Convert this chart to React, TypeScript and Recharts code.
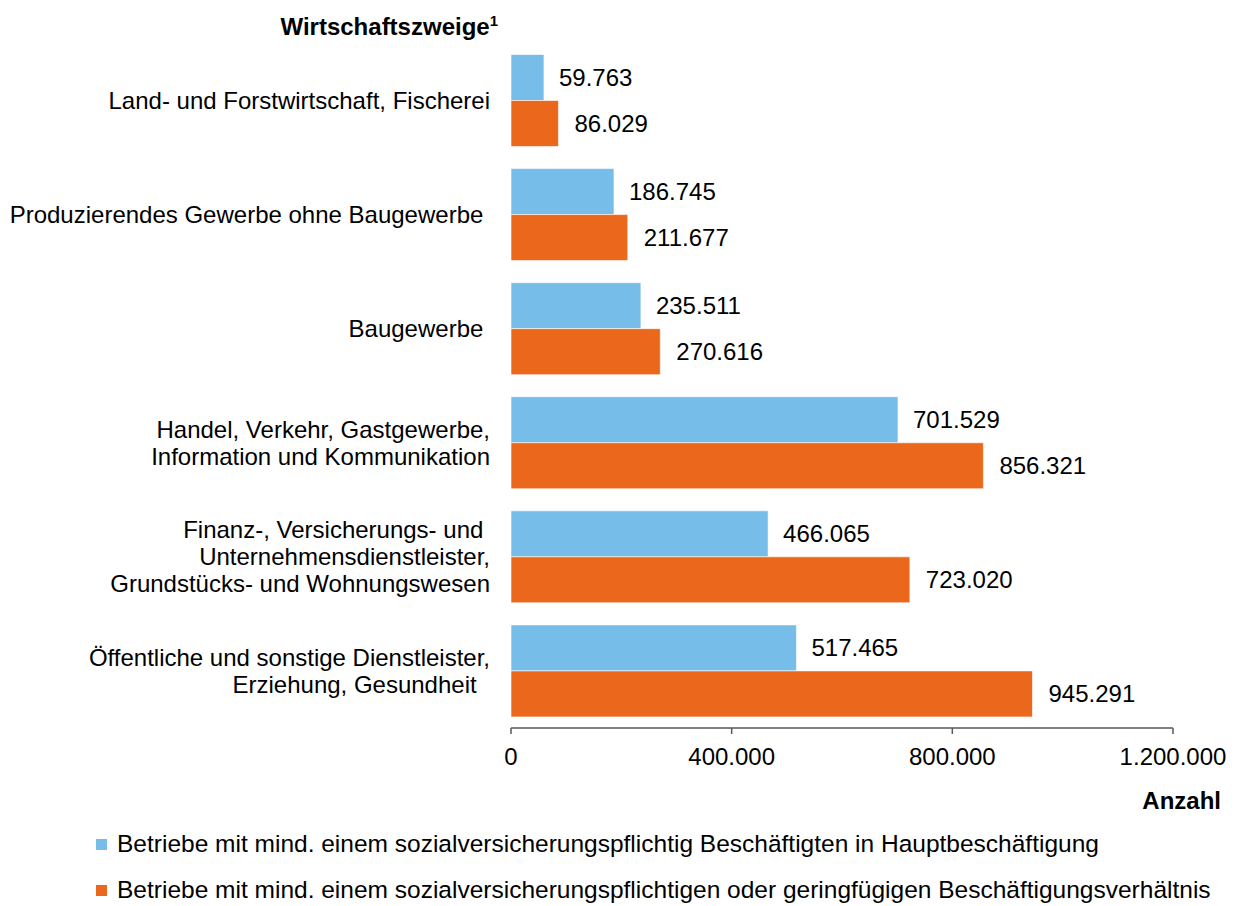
import { Bar, BarChart, LabelList, Legend, XAxis, YAxis } from 'recharts'

const categories = [
  'Land- und Forstwirtschaft, Fischerei',
  'Produzierendes Gewerbe ohne Baugewerbe\u00A0',
  'Baugewerbe\u00A0',
  'Handel, Verkehr, Gastgewerbe,\nInformation und Kommunikation',
  'Finanz-, Versicherungs- und\u00A0\nUnternehmensdienstleister,\nGrundstücks- und Wohnungswesen',
  'Öffentliche und sonstige Dienstleister,\nErziehung, Gesundheit\u00A0\u00A0',
]
const hauptbeschaeftigung = [59763, 186745, 235511, 701529, 466065, 517465]
const sozialOderGeringfuegig = [86029, 211677, 270616, 856321, 723020, 945291]
const xTicks = [0, 400000, 800000, 1200000]

const seriesNames = [
  'Betriebe mit mind. einem sozialversicherungspflichtig Beschäftigten in Hauptbeschäftigung',
  'Betriebe mit mind. einem sozialversicherungspflichtigen oder geringfügigen Beschäftigungsverhältnis',
]

const BLUE = '#76bde9'
const ORANGE = '#ea671b'
const FONT = '"Liberation Sans", Arial, sans-serif'

const data = categories.map((name, i) => ({
  name,
  a: hauptbeschaeftigung[i],
  b: sozialOderGeringfuegig[i],
}))

const fmt = (v: number) => String(v).replace(/\B(?=(\d{3})+(?!\d))/g, '.')

function CategoryTick(props: any) {
  const { x, y, payload } = props
  const lines = String(payload.value).split('\n')
  return (
    <text x={x} y={y} textAnchor="end" fontSize={24} fontFamily={FONT} fill="#000">
      {lines.map((l, i) => (
        <tspan key={i} x={x} y={y + (i - (lines.length - 1) / 2) * 27} dy="0.35em">
          {l}
        </tspan>
      ))}
    </text>
  )
}

function LegendBox() {
  const colors = [BLUE, ORANGE]
  return (
    <div style={{ fontFamily: FONT, fontSize: 24.5, color: '#000', whiteSpace: 'nowrap' }}>
      {seriesNames.map((n, i) => (
        <div key={n} style={{ display: 'flex', alignItems: 'center', height: 46, paddingLeft: 96 }}>
          <span style={{ width: 11, height: 11, background: colors[i], display: 'inline-block', marginRight: 10, flexShrink: 0 }} />
          {n}
        </div>
      ))}
    </div>
  )
}

export default function App() {
  return (
    <div style={{ position: 'absolute', left: 0, top: 0 }}>
      <BarChart
        width={1236}
        height={906}
        data={data}
        layout="vertical"
        margin={{ top: 43.5, right: 63, bottom: 148, left: 0 }}
        barGap={0}
        barSize={46}
      >
        <XAxis
          type="number"
          domain={[0, 1200000]}
          ticks={xTicks}
          tickFormatter={fmt}
          tick={{ fill: '#000', fontSize: 24, fontFamily: FONT }}
          axisLine={{ stroke: '#595959', strokeWidth: 1.5 }}
          tickLine={{ stroke: '#595959', strokeWidth: 1.5 }}
          tickSize={6}
          tickMargin={14}
          label={{
            content: (p: any) => (
              <text
                x={p.viewBox.x + p.viewBox.width + 48}
                y={809}
                textAnchor="end"
                fontSize={24}
                fontWeight="bold"
                fontFamily={FONT}
                fill="#000"
              >
                Anzahl
              </text>
            ),
          }}
        />
        <YAxis
          type="category"
          dataKey="name"
          width={511}
          axisLine={false}
          tickLine={false}
          tickSize={0}
          tickMargin={21}
          interval={0}
          tick={<CategoryTick />}
          label={{
            content: (p: any) => (
              <text
                x={p.viewBox.x + p.viewBox.width - 13}
                y={35}
                textAnchor="end"
                fontSize={24}
                fontWeight="bold"
                fontFamily={FONT}
                fill="#000"
              >
                Wirtschaftszweige
                <tspan fontSize={15} dy={-9}>1</tspan>
              </text>
            ),
          }}
        />
        <Legend
          layout="vertical"
          align="center"
          verticalAlign="middle"
          wrapperStyle={{ left: 0, top: 821, width: 1236 }}
          content={<LegendBox />}
        />
        <Bar dataKey="a" fill={BLUE} stroke="#ffffff" strokeOpacity={0.6} strokeWidth={1} isAnimationActive={false}>
          <LabelList dataKey="a" position="right" offset={15} formatter={(v: any) => fmt(v)} fill="#000" fontSize={24} fontFamily={FONT} />
        </Bar>
        <Bar dataKey="b" fill={ORANGE} stroke="#ffffff" strokeOpacity={0.6} strokeWidth={1} isAnimationActive={false}>
          <LabelList dataKey="b" position="right" offset={16} formatter={(v: any) => fmt(v)} fill="#000" fontSize={24} fontFamily={FONT} />
        </Bar>
      </BarChart>
    </div>
  )
}
